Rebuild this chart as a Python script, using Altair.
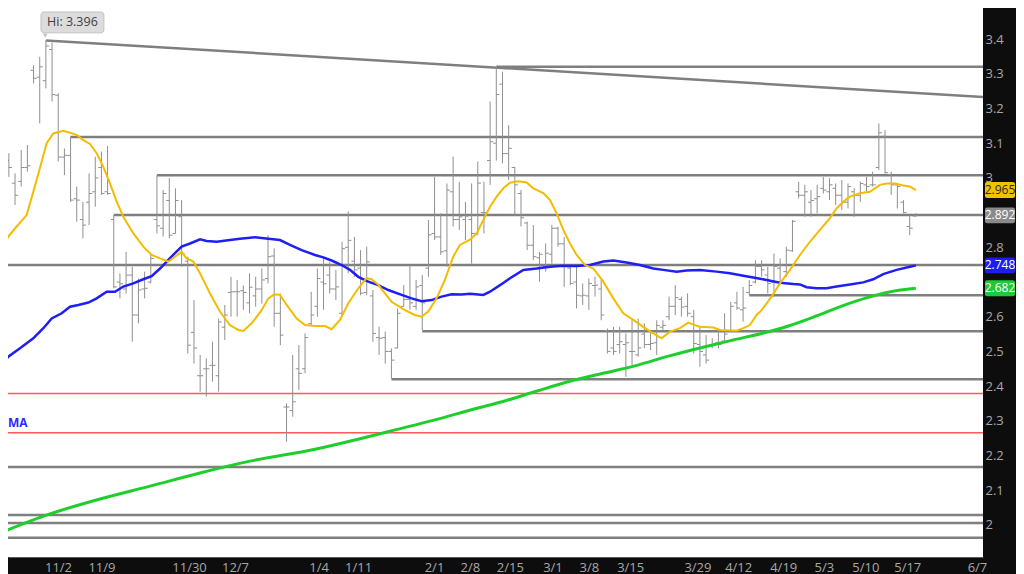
import altair as alt
import pandas as pd

# ---------------- data ----------------
bar_high = [3.071, 3.071, 3.013, 3.080, 3.095, 3.325, 3.349, 3.396, 3.390, 3.244,
            3.085, 3.119, 2.975, 2.931, 3.013, 3.061, 3.076, 3.092, 2.893, 2.725,
            2.787, 2.744, 2.710, 2.730, 2.778, 3.008, 2.965, 2.999, 2.970, 2.936,
            2.773, 2.648, 2.490, 2.480, 2.528, 2.595, 2.634, 2.715, 2.706, 2.690,
            2.725, 2.715, 2.739, 2.835, 2.797, 2.667, 2.350, 2.490, 2.518, 2.552,
            2.672, 2.739, 2.773, 2.758, 2.735, 2.816, 2.903, 2.830, 2.792, 2.802,
            2.677, 2.571, 2.557, 2.509, 2.624, 2.691, 2.749, 2.706, 2.720, 2.879,
            3.003, 2.898, 2.984, 3.061, 2.989, 2.931, 2.984, 3.047, 2.989, 3.220,
            3.320, 3.306, 3.152, 3.032, 2.965, 2.874, 2.864, 2.787, 2.811, 2.864,
            2.859, 2.830, 2.749, 2.744, 2.696, 2.710, 2.715, 2.706, 2.566, 2.571,
            2.571, 2.552, 2.590, 2.595, 2.581, 2.557, 2.590, 2.590, 2.658, 2.691,
            2.658, 2.667, 2.620, 2.571, 2.547, 2.538, 2.562, 2.610, 2.643, 2.672,
            2.686, 2.706, 2.763, 2.763, 2.744, 2.782, 2.768, 2.802, 2.879, 2.989,
            2.980, 2.965, 2.980, 3.003, 2.999, 2.984, 2.994, 2.984, 2.970, 2.989,
            3.003, 3.018, 3.157, 3.138, 3.018, 2.984, 2.936, 2.893, 2.898]
bar_low = [2.898, 3.003, 2.922, 2.975, 3.018, 3.272, 3.157, 3.258, 3.220, 3.047,
           3.008, 2.931, 2.874, 2.826, 2.864, 2.917, 2.951, 2.951, 2.682, 2.653,
           2.667, 2.528, 2.581, 2.653, 2.696, 2.840, 2.831, 2.826, 2.840, 2.744,
           2.494, 2.465, 2.384, 2.370, 2.413, 2.384, 2.533, 2.600, 2.600, 2.620,
           2.610, 2.629, 2.638, 2.696, 2.571, 2.518, 2.240, 2.312, 2.389, 2.437,
           2.576, 2.600, 2.620, 2.667, 2.648, 2.600, 2.725, 2.715, 2.662, 2.662,
           2.528, 2.490, 2.465, 2.422, 2.509, 2.629, 2.620, 2.620, 2.562, 2.715,
           2.821, 2.778, 2.744, 2.860, 2.850, 2.821, 2.753, 2.835, 2.840, 2.980,
           3.050, 3.042, 2.994, 2.893, 2.860, 2.792, 2.763, 2.701, 2.730, 2.753,
           2.802, 2.686, 2.691, 2.624, 2.634, 2.620, 2.658, 2.590, 2.494, 2.490,
           2.494, 2.427, 2.461, 2.485, 2.509, 2.504, 2.490, 2.562, 2.590, 2.605,
           2.600, 2.600, 2.494, 2.456, 2.465, 2.509, 2.509, 2.528, 2.562, 2.620,
           2.586, 2.662, 2.696, 2.715, 2.667, 2.658, 2.696, 2.715, 2.787, 2.941,
           2.888, 2.888, 2.898, 2.955, 2.936, 2.922, 2.907, 2.912, 2.888, 2.931,
           2.960, 2.975, 3.023, 3.013, 2.951, 2.912, 2.898, 2.835, 2.888]
bar_open = [3.03, 3.05, 2.985, 2.99, 3.03, 3.31, 3.29, 3.28, 3.37, 3.238,
            3.06, 3.065, 2.94, 2.88, 2.93, 2.96, 3.03, 2.96, 2.88, 2.70,
            2.68, 2.72, 2.605, 2.68, 2.70, 2.88, 2.855, 2.935, 2.84, 2.888,
            2.76, 2.555, 2.43, 2.45, 2.46, 2.43, 2.57, 2.67, 2.672, 2.675,
            2.64, 2.66, 2.68, 2.71, 2.775, 2.61, 2.34, 2.33, 2.45, 2.45,
            2.58, 2.63, 2.70, 2.72, 2.68, 2.61, 2.80, 2.76, 2.74, 2.67,
            2.66, 2.54, 2.54, 2.50, 2.51, 2.63, 2.65, 2.63, 2.69, 2.74,
            2.84, 2.83, 2.79, 2.96, 2.88, 2.88, 2.88, 2.84, 2.90, 3.05,
            3.10, 3.27, 3.07, 3.03, 2.955, 2.87, 2.806, 2.77, 2.745, 2.78,
            2.855, 2.81, 2.74, 2.70, 2.66, 2.66, 2.69, 2.68, 2.56, 2.51,
            2.52, 2.52, 2.50, 2.49, 2.55, 2.52, 2.525, 2.57, 2.60, 2.63,
            2.65, 2.63, 2.60, 2.52, 2.49, 2.52, 2.525, 2.53, 2.56, 2.64,
            2.62, 2.67, 2.70, 2.745, 2.72, 2.70, 2.74, 2.73, 2.79, 2.96,
            2.95, 2.93, 2.94, 2.97, 2.96, 2.97, 2.95, 2.93, 2.96, 2.95,
            2.98, 2.98, 3.03, 3.12, 3.01, 2.98, 2.93, 2.86, 2.89]
bar_close = [2.99, 3.03, 2.95, 3.03, 3.035, 3.287, 3.32, 3.38, 3.24, 3.06,
             3.065, 2.936, 2.936, 2.864, 2.955, 3.00, 2.955, 2.955, 2.686, 2.695,
             2.72, 2.605, 2.677, 2.682, 2.768, 2.862, 2.955, 2.835, 2.935, 2.782,
             2.518, 2.51, 2.43, 2.45, 2.46, 2.585, 2.605, 2.672, 2.672, 2.67,
             2.685, 2.68, 2.706, 2.773, 2.61, 2.547, 2.34, 2.355, 2.437, 2.54,
             2.605, 2.71, 2.695, 2.68, 2.686, 2.796, 2.82, 2.735, 2.668, 2.758,
             2.552, 2.538, 2.50, 2.475, 2.61, 2.65, 2.64, 2.686, 2.64, 2.836,
             2.83, 2.787, 2.965, 2.88, 2.888, 2.89, 2.84, 2.985, 2.90, 3.104,
             3.24, 3.07, 3.085, 2.98, 2.885, 2.806, 2.773, 2.78, 2.783, 2.855,
             2.81, 2.75, 2.696, 2.662, 2.662, 2.696, 2.691, 2.605, 2.50, 2.50,
             2.528, 2.525, 2.50, 2.51, 2.52, 2.523, 2.575, 2.575, 2.63, 2.655,
             2.628, 2.61, 2.523, 2.50, 2.475, 2.52, 2.52, 2.55, 2.63, 2.625,
             2.625, 2.69, 2.745, 2.735, 2.696, 2.745, 2.75, 2.792, 2.875, 2.95,
             2.96, 2.935, 2.946, 2.965, 2.98, 2.95, 2.93, 2.975, 2.95, 2.984,
             2.975, 2.98, 3.13, 3.015, 2.98, 2.975, 2.90, 2.855, 2.892]

# short moving average (yellow), sampled along the bar index
ma_short_k = [-0.44, 0.91, 2.26, 3.88, 5.5, 7.13, 8.2, 9.83, 11.99, 13.07,
              14.15, 15.23, 16.31, 17.39, 18.47, 19.55, 21.17, 22.79, 24.14, 25.5,
              26.84, 27.92, 29.0, 29.8, 30.9, 31.98, 33.6, 35.2, 36.8, 38.2,
              39.0, 40.35, 41.97, 43.05, 44.02, 44.94, 46.02, 47.64, 48.99, 50.61,
              52.23, 53.31, 54.66, 56.01, 57.63, 58.98, 59.79, 60.87, 63.03, 65.19,
              66.81, 67.89, 68.97, 70.32, 71.67, 73.02, 74.1, 75.74, 76.82, 77.9,
              78.98, 80.06, 81.14, 82.22, 83.57, 84.92, 86.0, 87.62, 88.7, 89.78,
              90.86, 91.94, 93.02, 94.37, 95.72, 97.34, 98.96, 100.58, 102.2, 103.82,
              105.44, 106.79, 108.14, 109.76, 111.11, 112.19, 113.0, 115.17, 116.25, 118.95,
              120.03, 121.11, 122.19, 123.0, 124.62, 125.97, 127.59, 129.21, 130.83, 132.45,
              134.07, 135.15, 136.23, 137.31, 138.93, 140.55, 141.36, 142.17, 143.25, 144.6,
              145.95, 147.03, 148.0]
ma_short_v = [2.783, 2.831, 2.860, 2.893, 2.994, 3.100, 3.128, 3.136, 3.124, 3.109,
              3.098, 3.071, 3.032, 2.984, 2.932, 2.888, 2.840, 2.802, 2.778, 2.768,
              2.759, 2.773, 2.787, 2.768, 2.759, 2.725, 2.667, 2.615, 2.576, 2.562,
              2.559, 2.581, 2.619, 2.653, 2.665, 2.663, 2.634, 2.595, 2.576, 2.573,
              2.573, 2.564, 2.591, 2.639, 2.682, 2.711, 2.708, 2.692, 2.643, 2.619,
              2.605, 2.600, 2.615, 2.653, 2.706, 2.773, 2.807, 2.822, 2.840, 2.879,
              2.917, 2.946, 2.970, 2.986, 2.990, 2.987, 2.970, 2.956, 2.936, 2.898,
              2.850, 2.811, 2.778, 2.749, 2.739, 2.701, 2.653, 2.610, 2.591, 2.571,
              2.552, 2.538, 2.557, 2.567, 2.583, 2.576, 2.571, 2.569, 2.562, 2.560,
              2.567, 2.576, 2.605, 2.619, 2.658, 2.696, 2.735, 2.778, 2.816, 2.850,
              2.884, 2.912, 2.931, 2.946, 2.956, 2.960, 2.970, 2.980, 2.984, 2.984,
              2.978, 2.975, 2.965]

# medium moving average (blue)
ma_mid_k = [-0.44, 0.91, 2.8, 4.96, 6.59, 7.94, 9.56, 10.91, 12.26, 13.88,
            15.23, 16.85, 18.2, 19.55, 21.17, 22.79, 24.14, 25.5, 26.84, 27.92,
            29.0, 30.36, 31.98, 33.06, 34.68, 36.84, 38.45, 40.89, 43.05, 44.94,
            46.56, 48.45, 50.61, 51.96, 53.31, 54.93, 56.28, 57.63, 59.25, 60.87,
            62.49, 64.65, 66.27, 67.89, 69.51, 71.13, 72.75, 74.37, 75.74, 77.9,
            78.98, 80.6, 82.22, 84.38, 86.54, 88.7, 90.86, 93.02, 95.18, 97.34,
            98.96, 101.12, 103.28, 105.44, 107.06, 109.22, 110.84, 113.0, 115.71, 117.87,
            120.03, 121.65, 123.81, 125.97, 128.13, 129.21, 130.29, 131.91, 133.53, 135.15,
            137.31, 139.47, 141.09, 142.71, 144.87, 147.03, 148.0]
ma_mid_v = [2.456, 2.485, 2.509, 2.538, 2.567, 2.595, 2.610, 2.629, 2.634, 2.641,
            2.653, 2.672, 2.672, 2.687, 2.696, 2.708, 2.717, 2.739, 2.764, 2.783,
            2.802, 2.811, 2.823, 2.818, 2.816, 2.821, 2.825, 2.829, 2.825, 2.821,
            2.807, 2.792, 2.778, 2.771, 2.762, 2.749, 2.735, 2.715, 2.701, 2.691,
            2.677, 2.663, 2.653, 2.645, 2.648, 2.658, 2.665, 2.664, 2.666, 2.663,
            2.672, 2.691, 2.711, 2.735, 2.739, 2.744, 2.747, 2.746, 2.749, 2.759,
            2.762, 2.756, 2.749, 2.739, 2.735, 2.730, 2.733, 2.735, 2.730, 2.725,
            2.718, 2.713, 2.706, 2.698, 2.694, 2.693, 2.685, 2.682, 2.682, 2.687,
            2.693, 2.699, 2.708, 2.723, 2.735, 2.744, 2.748]

# long moving average (green)
ma_long_k = [-0.44, 7.67, 15.77, 23.87, 31.98, 40.08, 50.62, 57.1, 63.58, 70.06,
             76.55, 81.1, 86.6, 91.94, 97.3, 102.8, 108.2, 113.5, 118.4, 123.9,
             127.1, 132.0, 136.2, 140.1, 143.3, 148.0]
ma_long_v = [1.977, 2.032, 2.075, 2.112, 2.150, 2.184, 2.218, 2.245, 2.274, 2.303,
             2.335, 2.356, 2.386, 2.414, 2.437, 2.460, 2.488, 2.512, 2.533, 2.556,
             2.572, 2.603, 2.632, 2.655, 2.670, 2.682]

# horizontal support / resistance levels (start bar, price)
level_start = [80, 11, 25, 18, -5, 121, 68, 63, -5, -5, -5, -5]
level_value = [3.32, 3.118, 3.008, 2.893, 2.749, 2.662, 2.558, 2.42, 2.167, 2.029, 2.006, 1.963]
red_level_value = [2.379, 2.266]

# descending trendline from the high
trend_k = [7, 160]
trend_v = [3.396, 3.232]

# x-axis date labels at bar positions
tick_pos = [8.96, 16.0, 30.2, 37.65, 51.2, 57.6, 69.9, 75.7, 82.2, 89.1,
            95.0, 101.7, 112.6, 119.2, 126.5, 133.1, 139.8, 146.6, 157.9]
tick_labels = ["11/2", "11/9", "11/30", "12/7", "1/4", "1/11", "2/1", "2/8", "2/15", "3/1",
               "3/8", "3/15", "3/29", "4/12", "4/19", "5/3", "5/10", "5/17", "6/7"]
# price labels (2.7 and 2.9 sit under the value tags)
y_ticks = [2.0, 2.1, 2.2, 2.3, 2.4, 2.5, 2.6, 2.8, 3.0, 3.1, 3.2, 3.3, 3.4]

# last-value tags on the price axis
tag_value = [2.965, 2.892, 2.748, 2.682]
tag_text = ["2.965", "2.892", "2.748", "2.682"]
tag_fill = ["#f2c200", "#8a8a8a", "#1d1df2", "#1fc93a"]
tag_ink = ["#2a2a2a", "#ffffff", "#ffffff", "#ffffff"]

hi_k = [7]
hi_v = [3.396]
hi_label = ["Hi: 3.396"]

# ---------------- chart ----------------
FONT = "Open Sans"
xs = alt.Scale(domain=[0.859, 158.88], nice=False, zero=False)
ys = alt.Scale(domain=[1.9078, 3.4895], nice=False, zero=False)

label_expr = ("[" + ",".join(f"'{t}'" for t in tick_labels) + "][indexof(["
              + ",".join(str(p) for p in tick_pos) + "], datum.value)]")

xax = alt.Axis(values=tick_pos, labelExpr=label_expr, title=None, ticks=False, grid=False,
               domain=True, domainColor="#5a5a5a", domainWidth=1,
               labelColor="#a8a8a8", labelFont=FONT, labelFontSize=13, labelPadding=4,
               labelOverlap=False, labelFlush=False, labelBaseline="top", orient="bottom")
yax = alt.Axis(values=y_ticks, format="~g", title=None, ticks=False, grid=False, domain=False,
               labelColor="#a8a8a8", labelFont=FONT, labelFontSize=13, labelPadding=2,
               labelAlign="left", labelBaseline="middle", orient="right",
               labelOverlap=False, labelFlush=False)


def X(field):
    return alt.X(field, scale=xs, axis=xax)


def Y(field):
    return alt.Y(field, scale=ys, axis=yax)


bars = pd.DataFrame({"k": list(range(len(bar_high))), "high": bar_high, "low": bar_low,
                     "open": bar_open, "close": bar_close})
levels = pd.DataFrame({"start": level_start, "value": level_value})
reds = pd.DataFrame({"value": red_level_value})
trend = pd.DataFrame({"k": trend_k, "v": trend_v})
ma_s = pd.DataFrame({"k": ma_short_k, "v": ma_short_v})
ma_m = pd.DataFrame({"k": ma_mid_k, "v": ma_mid_v})
ma_l = pd.DataFrame({"k": ma_long_k, "v": ma_long_v})
tags = pd.DataFrame({"v": tag_value, "t": tag_text, "fill": tag_fill, "ink": tag_ink})
hi = pd.DataFrame({"k": hi_k, "v": hi_v, "t": hi_label})
ma_note = pd.DataFrame({"v": [2.294], "t": ["MA"]})

level_layer = alt.Chart(levels).transform_calculate(end="220").mark_rule(
    color="#7f7f7f", strokeWidth=2.5, clip=True).encode(x=X("start:Q"), x2="end:Q", y=Y("value:Q"))

red_layer = alt.Chart(reds).mark_rule(color="#ff5a5a", strokeWidth=1.5).encode(y=Y("value:Q"))

trend_layer = alt.Chart(trend).mark_line(color="#7f7f7f", strokeWidth=2.5, clip=True).encode(
    x=X("k:Q"), y=Y("v:Q"))

hl_layer = alt.Chart(bars).mark_rule(color="#8f8f8f", strokeWidth=1, clip=True).encode(
    x=X("k:Q"), y=Y("low:Q"), y2="high:Q")
open_layer = alt.Chart(bars).transform_calculate(kl="datum.k - 0.5").mark_rule(
    color="#8f8f8f", strokeWidth=1, clip=True).encode(x=X("kl:Q"), x2="k:Q", y=Y("open:Q"))
close_layer = alt.Chart(bars).transform_calculate(kr="datum.k + 0.5").mark_rule(
    color="#8f8f8f", strokeWidth=1, clip=True).encode(x=X("k:Q"), x2="kr:Q", y=Y("close:Q"))

green_layer = alt.Chart(ma_l).mark_line(color="#1ecf2c", strokeWidth=3, clip=True,
                                        interpolate="monotone").encode(x=X("k:Q"), y=Y("v:Q"))
blue_layer = alt.Chart(ma_m).mark_line(color="#1f1ff5", strokeWidth=2.5, clip=True).encode(
    x=X("k:Q"), y=Y("v:Q"))
yellow_layer = alt.Chart(ma_s).mark_line(color="#f2bd00", strokeWidth=2, clip=True).encode(
    x=X("k:Q"), y=Y("v:Q"))

tag_rect = alt.Chart(tags).transform_calculate(
    top="datum.v + 0.023", bot="datum.v - 0.023").mark_rect(cornerRadius=2, clip=False).encode(
    x=alt.value(977), x2=alt.value(1007), y=Y("top:Q"), y2="bot:Q",
    fill=alt.Color("fill:N", scale=None))
tag_txt = alt.Chart(tags).mark_text(font=FONT, fontSize=12, align="center", baseline="middle",
                                    clip=False).encode(
    x=alt.value(992), y=Y("v:Q"), text="t:N", color=alt.Color("ink:N", scale=None))

hi_rect = alt.Chart(hi).transform_calculate(
    x1="datum.k - 0.8", x2="datum.k + 9.4", y1="datum.v + 0.082", y2="datum.v + 0.022"
).mark_rect(fill="#dcdcdc", stroke="#c2c2c2", strokeWidth=1, cornerRadius=3).encode(
    x=X("x1:Q"), x2="x2:Q", y=Y("y1:Q"), y2="y2:Q")
hi_ptr = alt.Chart(hi).transform_calculate(px="datum.k - 0.1", py="datum.v + 0.014").mark_point(
    shape="triangle-down", filled=True, size=22, color="#c2c2c2", opacity=1).encode(
    x=X("px:Q"), y=Y("py:Q"))
hi_txt = alt.Chart(hi).transform_calculate(tx="datum.k + 4.3", ty="datum.v + 0.052").mark_text(
    font=FONT, fontSize=12.5, color="#404040", align="center", baseline="middle").encode(
    x=X("tx:Q"), y=Y("ty:Q"), text="t:N")

ma_txt = alt.Chart(ma_note).mark_text(font=FONT, fontSize=12, fontWeight="bold", color="#2a2aff",
                                      align="left", baseline="middle").encode(
    x=alt.value(0), y=Y("v:Q"), text="t:N")

chart = alt.layer(
    level_layer, red_layer, trend_layer, hl_layer, open_layer, close_layer,
    green_layer, blue_layer, yellow_layer, tag_rect, tag_txt, hi_rect, hi_ptr, hi_txt, ma_txt
).properties(
    width=975, height=549, background="#0d0d0d",
    padding={"left": 0, "top": 0, "right": 33, "bottom": 17},
    autosize=alt.AutoSizeParams(type="none"),
).configure_view(fill="white", strokeWidth=0)

chart.save("out.html", embed_options={"renderer": "svg", "actions": False})
